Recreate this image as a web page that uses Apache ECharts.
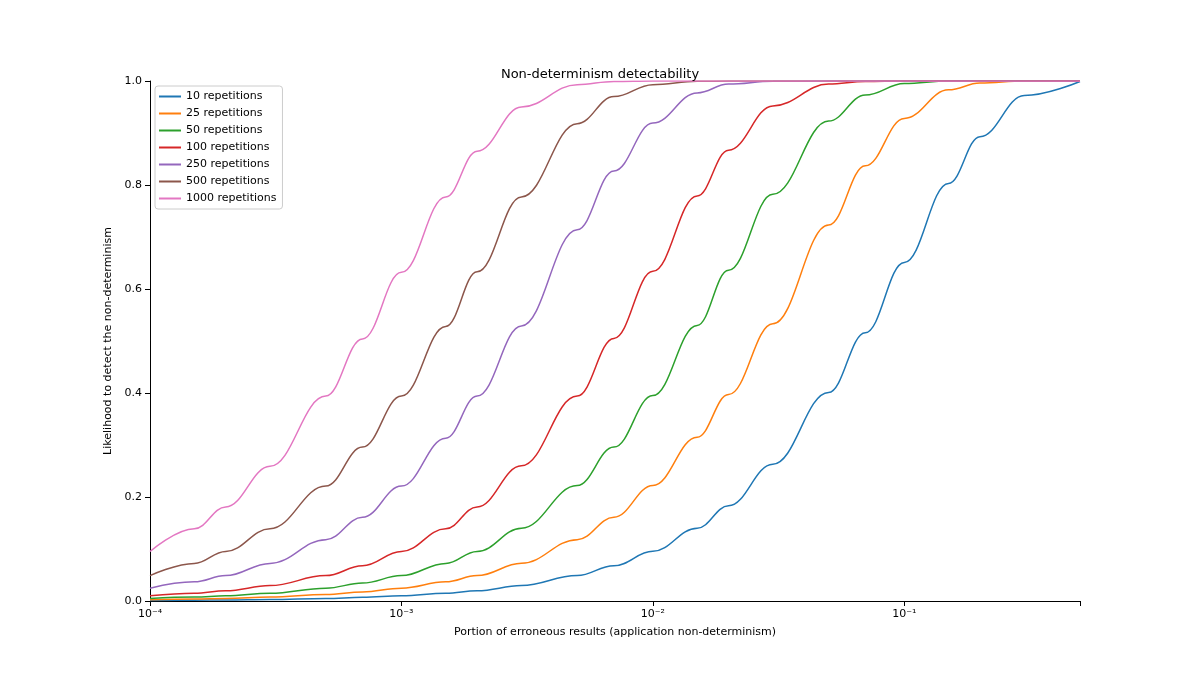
<!DOCTYPE html>
<html><head><meta charset="utf-8">
<script src="https://cdn.jsdelivr.net/npm/echarts@6/dist/echarts.min.js"></script>
<style>html,body{margin:0;padding:0;background:#fff}#c{width:1200px;height:675px}</style>
</head><body><div id="c"></div>
<script>
const xs = [1e-4,1.5e-4,2e-4,3e-4,5e-4,7e-4,1e-3,1.5e-3,2e-3,3e-3,5e-3,7e-3,1e-2,1.5e-2,2e-2,3e-2,5e-2,7e-2,0.1,0.15,0.2,0.3,0.5];
const names = ['10 repetitions','25 repetitions','50 repetitions','100 repetitions','250 repetitions','500 repetitions','1000 repetitions'];
const r10 = [0.001,0.0015,0.002,0.003,0.005,0.007,0.00996,0.0149,0.0198,0.0296,0.0489,0.0678,0.0956,0.140,0.183,0.263,0.401,0.516,0.651,0.803,0.893,0.972,0.999];
const r25 = [0.0025,0.00374,0.005,0.0075,0.0124,0.0173,0.0247,0.0368,0.0488,0.0724,0.118,0.161,0.222,0.315,0.397,0.533,0.723,0.837,0.928,0.983,0.996,1,1];
const r50 = [0.005,0.0075,0.00995,0.0149,0.0247,0.0344,0.0488,0.0723,0.0953,0.140,0.222,0.296,0.395,0.530,0.636,0.782,0.923,0.973,0.995,1,1,1,1];
const r100 = [0.00995,0.0149,0.0198,0.0296,0.0488,0.0677,0.0952,0.139,0.181,0.260,0.394,0.505,0.634,0.779,0.867,0.952,0.994,0.999,1,1,1,1,1];
const r250 = [0.0247,0.0368,0.0488,0.0723,0.118,0.161,0.221,0.313,0.394,0.529,0.714,0.827,0.919,0.977,0.994,0.9995,1,1,1,1,1,1,1];
const r500 = [0.0488,0.0723,0.0952,0.139,0.221,0.296,0.394,0.528,0.633,0.777,0.918,0.970,0.993,0.9995,1,1,1,1,1,1,1,1,1];
const r1000 = [0.0952,0.139,0.181,0.259,0.394,0.504,0.632,0.777,0.865,0.950,0.993,0.999,1,1,1,1,1,1,1,1,1,1,1];
const yTicks = ['0.0','0.2','0.4','0.6','0.8','1.0'];
const colors = ['#1f77b4','#ff7f0e','#2ca02c','#d62728','#9467bd','#8c564b','#e377c2'];
const all = [r10,r25,r50,r100,r250,r500,r1000];
const sup = {'-':'⁻','0':'⁰','1':'¹','2':'²','3':'³','4':'⁴','5':'⁵'};
const font = 'DejaVu Sans';
const chart = echarts.init(document.getElementById('c'));
chart.setOption({
  animation:false,
  color:colors,
  textStyle:{fontFamily:font},
  title:{text:'Non-determinism detectability',left:'center',top:63,textStyle:{fontSize:13,fontWeight:'normal',color:'#000',fontFamily:font}},
  grid:{left:150,right:120,top:81,bottom:74},
  legend:{orient:'vertical',left:155,top:86,itemWidth:22,itemHeight:2,itemGap:6,icon:'rect',
    borderColor:'#ccc',borderWidth:1,borderRadius:3,padding:[5,6,5,4],backgroundColor:'#fff',
    textStyle:{fontSize:11,color:'#000',fontFamily:font},data:names},
  xAxis:{type:'log',min:1e-4,max:0.5,logBase:10,
    name:'Portion of erroneous results (application non-determinism)',nameLocation:'middle',nameGap:26,
    nameTextStyle:{fontSize:11,color:'#000'},
    axisLine:{lineStyle:{color:'#000'}},axisTick:{length:5,lineStyle:{color:'#000'}},
    axisLabel:{color:'#000',fontSize:11,formatter:v=>{const e=Math.round(Math.log10(v));if(Math.abs(Math.log10(v)-e)>1e-6)return '';return '10'+String(e).split('').map(c=>sup[c]).join('');}},
    splitLine:{show:false}},
  yAxis:{type:'value',min:0,max:1,interval:0.2,
    name:'Likelihood to detect the non-determinism',nameLocation:'middle',nameGap:28,
    nameTextStyle:{fontSize:11,color:'#000'},
    axisLine:{show:true,lineStyle:{color:'#000'}},axisTick:{show:true,length:5,lineStyle:{color:'#000'}},
    axisLabel:{color:'#000',fontSize:11,formatter:v=>yTicks[Math.round(v/0.2)]},
    splitLine:{show:false}},
  series:all.map((arr,i)=>({name:names[i],type:'line',showSymbol:false,smooth:0.4,smoothMonotone:'x',
    lineStyle:{width:1.5,color:colors[i]},data:xs.map((x,j)=>[x,arr[j]])}))
});
</script></body></html>
